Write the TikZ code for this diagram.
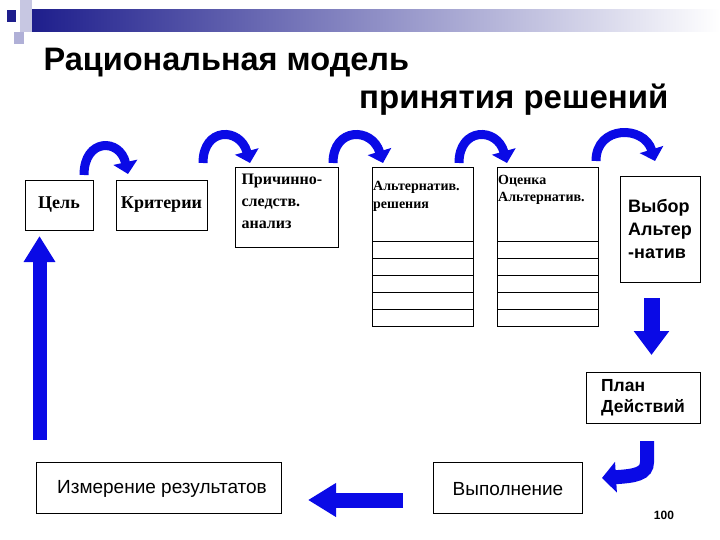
\documentclass[tikz,border=0pt]{standalone}
\usepackage{fontspec}
\setmainfont{Liberation Sans}
\newfontfamily\tnr{Liberation Serif}
\usetikzlibrary{arrows.meta}
\definecolor{navy}{RGB}{30,30,140}
\definecolor{arblue}{RGB}{10,10,230}
\begin{document}
\begin{tikzpicture}[x=1pt,y=-1pt,
  box/.style={draw,line width=0.8pt,fill=white,inner sep=0pt},
  curv/.style={arblue,line width=9pt,-{Triangle[width=24pt,length=12pt]}},
  blk/.style={arblue,line width=14pt,-{Triangle[width=30pt,length=26pt]}}]
\useasboundingbox (0,0) rectangle (720,540);
% decoration
\shade[left color=navy,right color=white] (32,10) rectangle (720,32);
\fill[navy] (7,10) rectangle (16,22);
\fill[navy!25] (20,0) rectangle (32,32);
\fill[navy!35] (14,32) rectangle (24,44);
% title
\node[anchor=west,font=\bfseries\fontsize{32.5}{36}\selectfont] (t1) at (40,63) {Рациональная модель};
\node[anchor=east,font=\bfseries\fontsize{33}{36}\selectfont] (t2) at (672,100) {принятия решений};
% boxes
\node[box,minimum width=68,minimum height=50,font=\tnr\bfseries\fontsize{18}{20}\selectfont] (cel) at (59,205) {Цель};
\node[box,minimum width=91,minimum height=50,font=\tnr\bfseries\fontsize{18}{20}\selectfont] (krit) at (161.5,205) {Критерии};
\draw[line width=0.8pt] (235,167) rectangle (338,247);
\node[anchor=north west,font=\tnr\bfseries\fontsize{16}{22}\selectfont,align=left] (prich) at (238,170) {Причинно-\\следств.\\анализ};
\draw[line width=0.8pt] (372,167) rectangle (473,326);
\draw[line width=0.8pt] (497,167) rectangle (598,326);
\foreach \y in {241,258,275,292,309}{
  \draw[line width=0.6pt] (372,\y) -- (473,\y);
  \draw[line width=0.6pt] (497,\y) -- (598,\y);}
\node[anchor=north west,font=\tnr\bfseries\fontsize{14}{18}\selectfont,align=left,inner sep=1pt] (alt) at (372,180) {Альтернатив.\\решения};
\node[anchor=north west,font=\tnr\bfseries\fontsize{14}{17}\selectfont,align=left,inner sep=1pt] (oc) at (497,174) {Оценка\\Альтернатив.};
\node[box,minimum width=80,minimum height=106] (vyb) at (660,229) {};
\node[font=\bfseries\fontsize{18}{23}\selectfont,align=left] at (vyb) {Выбор\\Альтер\\-натив};
\node[box,minimum width=114,minimum height=51] (plan) at (643,397.5) {};
\node[font=\bfseries\fontsize{17.5}{21}\selectfont,align=left] at (plan) {План\\Действий};
\node[box,minimum width=149,minimum height=51] (vyp) at (507.5,487.5) {};
\node[font=\fontsize{19}{21}\selectfont] at (508,489) {Выполнение};
\node[box,minimum width=245,minimum height=51] (izm) at (158.5,487.5) {};
\node[font=\fontsize{19}{21}\selectfont] at (162,489) {Измерение результатов};
\node[font=\bfseries\fontsize{12}{14}\selectfont] (num) at (664,515) {100};
% curved arrows
\coordinate (a1s) at (84,175); \coordinate (a1e) at (128,174);
\coordinate (a2s) at (203,163); \coordinate (a2e) at (250,163);
\coordinate (a3s) at (333,163); \coordinate (a3e) at (383,163);
\coordinate (a4s) at (459,163); \coordinate (a4e) at (507,163);
\coordinate (a5s) at (596,161); \coordinate (a5e) at (655,161);
\draw[curv] (a1s) .. controls (84,138) and (120,138) .. (a1e);
\draw[curv] (a2s) .. controls (203,127) and (240,127) .. (a2e);
\draw[curv] (a3s) .. controls (333,127) and (372,127) .. (a3e);
\draw[curv] (a4s) .. controls (459,127) and (497,127) .. (a4e);
\draw[curv] (a5s) .. controls (596,125) and (644,125) .. (a5e);
% block arrows
\coordinate (up0) at (39.5,440); \coordinate (up1) at (39.5,236);
\draw[blk] (up0) -- (up1);
\coordinate (dn0) at (651.5,298); \coordinate (dn1) at (651.5,355);
\draw[blk,line width=16pt,-{Triangle[width=34pt,length=24pt]}] (dn0) -- (dn1);
\coordinate (lf0) at (403,500); \coordinate (lf1) at (308,500);
\draw[blk,line width=15pt,-{Triangle[width=32pt,length=28pt]}] (lf0) -- (lf1);
\coordinate (bn0) at (647,441); \coordinate (bn1) at (602,478);
\draw[blk,line width=14pt,-{Triangle[width=30pt,length=14pt]}] (bn0) -- (647,462) .. controls (647,474) and (635,476) .. (bn1);
\end{tikzpicture}
\end{document}
